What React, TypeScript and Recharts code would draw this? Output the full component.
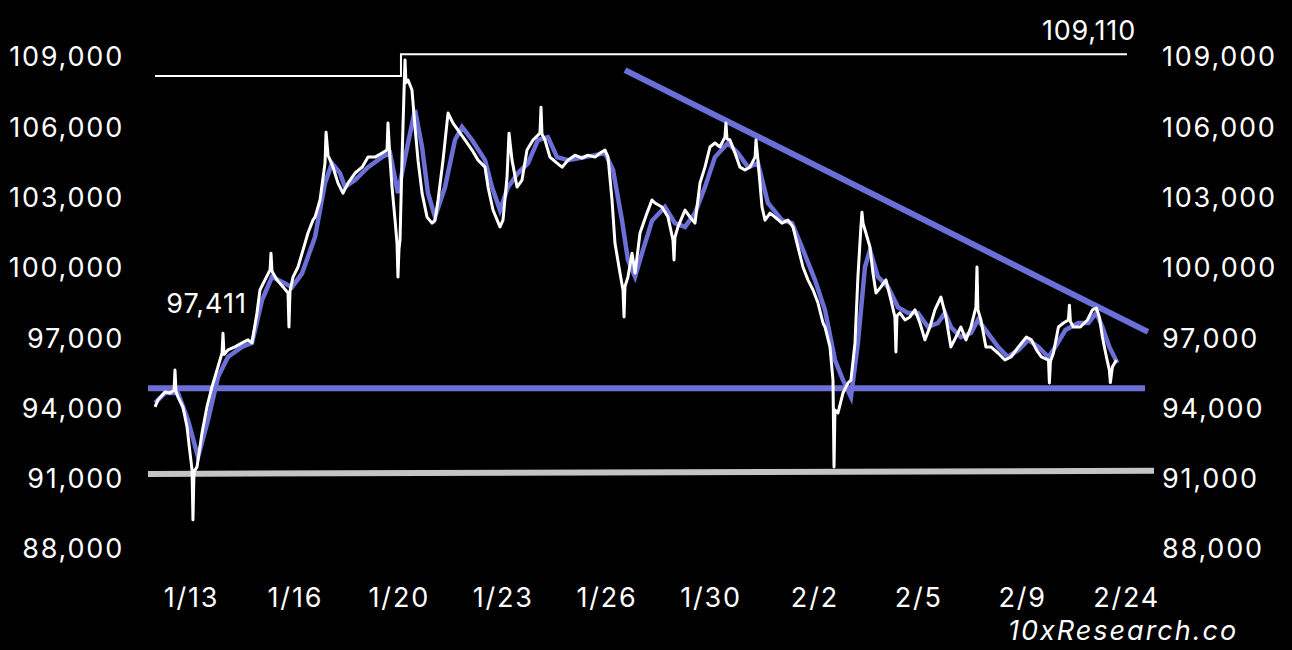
import React from "react";
import {
  ComposedChart,
  Line,
  XAxis,
  YAxis,
  ReferenceDot,
} from "recharts";

// x is a position index: tick k sits on label k (1/13 ... 2/24)
const X_LABELS = ["1/13", "1/16", "1/20", "1/23", "1/26", "1/30", "2/2", "2/5", "2/9", "2/24"];
const X_TICKS = [0, 1, 2, 3, 4, 5, 6, 7, 8, 9];
const Y_TICKS = [88000, 91000, 94000, 97000, 100000, 103000, 106000, 109000];

// BTC price (hourly-ish): [x, price]
const PRICE: [number, number][] = [
  [-0.351, 94060], [-0.322, 94360], [-0.255, 94700], [-0.207, 94650], [-0.168, 94780],
  [-0.159, 95630], [-0.149, 94700], [-0.13, 94480], [-0.082, 94050], [-0.043, 93200],
  [-0.014, 92090], [0.005, 91370], [0.014, 89240], [0.024, 91300], [0.053, 91500],
  [0.101, 92950], [0.149, 94060], [0.197, 94910], [0.245, 95630], [0.294, 96360],
  [0.303, 97200], [0.313, 96300], [0.351, 96490], [0.419, 96620], [0.486, 96790],
  [0.544, 96920], [0.582, 96790], [0.63, 98070], [0.659, 99050], [0.707, 99480],
  [0.756, 99900], [0.765, 100620], [0.775, 99850], [0.823, 99480], [0.881, 99180],
  [0.929, 98920], [0.938, 97470], [0.948, 99000], [0.977, 99600], [1.025, 100030],
  [1.073, 100750], [1.121, 101480], [1.169, 102030], [1.189, 102160], [1.237, 102890],
  [1.285, 104460], [1.295, 105780], [1.314, 104800], [1.362, 104290], [1.41, 103610],
  [1.458, 103180], [1.506, 103610], [1.574, 104040], [1.642, 104290], [1.699, 104720],
  [1.766, 104720], [1.834, 104890], [1.882, 105020], [1.891, 106170], [1.911, 104600],
  [1.93, 103440], [1.959, 102030], [1.978, 101040], [1.987, 99600], [1.997, 100800],
  [2.007, 101180], [2.026, 104590], [2.045, 107450], [2.055, 108860], [2.064, 107900],
  [2.084, 108010], [2.122, 107580], [2.151, 106010], [2.18, 104590], [2.219, 103180],
  [2.267, 102160], [2.315, 101900], [2.344, 102030], [2.373, 102890], [2.421, 104590],
  [2.469, 106600], [2.517, 106170], [2.565, 105870], [2.632, 105450], [2.7, 105020],
  [2.758, 104590], [2.825, 104290], [2.854, 103440], [2.902, 102460], [2.969, 101740],
  [2.998, 102030], [3.037, 103870], [3.056, 105740], [3.085, 104590], [3.133, 103440],
  [3.181, 103740], [3.229, 105020], [3.287, 105450], [3.354, 105740], [3.364, 106850],
  [3.373, 105700], [3.402, 105450], [3.45, 104720], [3.518, 104460], [3.566, 104290],
  [3.624, 104590], [3.691, 104800], [3.759, 104680], [3.816, 104800], [3.884, 104720],
  [3.932, 104890], [3.98, 105020], [4.009, 104720], [4.047, 102890], [4.076, 101040],
  [4.124, 99770], [4.153, 99050], [4.163, 97900], [4.172, 99200], [4.201, 99610],
  [4.24, 100620], [4.269, 99770], [4.317, 101480], [4.384, 102330], [4.432, 102890],
  [4.461, 102760], [4.528, 102590], [4.586, 102160], [4.634, 101180], [4.644, 100330],
  [4.653, 101300], [4.682, 101740], [4.75, 102460], [4.798, 102160], [4.846, 101900],
  [4.894, 103610], [4.942, 104290], [4.99, 105150], [5.038, 105320], [5.086, 105150],
  [5.134, 105570], [5.144, 106170], [5.154, 105500], [5.183, 105450], [5.231, 104890],
  [5.279, 104290], [5.327, 104170], [5.375, 104290], [5.424, 104720], [5.433, 105450],
  [5.452, 104590], [5.491, 102590], [5.52, 102030], [5.568, 102330], [5.616, 102160],
  [5.683, 101900], [5.741, 102030], [5.789, 101740], [5.837, 100880], [5.885, 100030],
  [5.933, 99480], [5.982, 99050], [6.03, 98490], [6.078, 97640], [6.097, 97470],
  [6.145, 96620], [6.174, 95210], [6.184, 91500], [6.193, 93930], [6.222, 93800],
  [6.27, 94650], [6.318, 95080], [6.347, 95210], [6.386, 96790], [6.414, 99610],
  [6.443, 101740], [6.453, 102370], [6.463, 101900], [6.491, 101480], [6.53, 100880],
  [6.559, 99770], [6.588, 98920], [6.636, 99180], [6.684, 99480], [6.732, 98620],
  [6.77, 97900], [6.78, 96400], [6.79, 97950], [6.818, 98070], [6.867, 97770],
  [6.915, 97900], [6.963, 98200], [7.011, 97640], [7.059, 96920], [7.107, 97470],
  [7.155, 98200], [7.213, 98750], [7.261, 97900], [7.309, 96620], [7.357, 97040],
  [7.405, 97470], [7.454, 96920], [7.502, 97470], [7.55, 98320], [7.56, 100030],
  [7.569, 98200], [7.598, 97770], [7.646, 96620], [7.694, 96620], [7.762, 96360],
  [7.829, 96060], [7.887, 96190], [7.959, 96620], [8.036, 97040], [8.084, 96920],
  [8.132, 96490], [8.18, 96190], [8.248, 96060], [8.257, 95080], [8.267, 96000],
  [8.296, 96360], [8.344, 97470], [8.392, 97640], [8.44, 97770], [8.45, 98400],
  [8.459, 97700], [8.488, 97470], [8.555, 97470], [8.623, 97770], [8.671, 98200],
  [8.709, 98280], [8.738, 97900], [8.767, 97040], [8.806, 96190], [8.834, 95630],
  [8.844, 95100], [8.863, 95760], [8.902, 96060],
];

// moving average (blue)
const MA: [number, number][] = [
  [-0.351, 94230], [-0.255, 94650], [-0.13, 94650], [-0.034, 93500], [0.063, 91920],
  [0.159, 93500], [0.255, 95340], [0.351, 96190], [0.486, 96620], [0.582, 96790],
  [0.679, 98620], [0.775, 99610], [0.9, 99330], [0.967, 99160], [1.064, 99760],
  [1.189, 101310], [1.285, 103610], [1.352, 104460], [1.429, 104040], [1.477, 103440],
  [1.574, 103740], [1.699, 104290], [1.834, 104720], [1.911, 104890], [1.987, 103180],
  [2.084, 105320], [2.151, 106730], [2.219, 105150], [2.276, 103180], [2.344, 102160],
  [2.44, 103440], [2.536, 105450], [2.604, 106010], [2.7, 105450], [2.825, 104590],
  [2.892, 103440], [2.969, 102460], [3.046, 103440], [3.143, 104040], [3.239, 104460],
  [3.335, 105450], [3.431, 105570], [3.518, 104720], [3.624, 104590], [3.787, 104720],
  [3.98, 104890], [4.057, 104170], [4.143, 102030], [4.201, 100320], [4.269, 99610],
  [4.336, 100620], [4.432, 102000], [4.557, 102590], [4.653, 101900], [4.75, 101740],
  [4.846, 102330], [4.942, 103440], [5.038, 104720], [5.163, 105320], [5.26, 104890],
  [5.356, 104290], [5.452, 104460], [5.548, 102760], [5.683, 102030], [5.779, 101900],
  [5.875, 100880], [6.0, 99480], [6.097, 98190], [6.193, 96060], [6.27, 95210],
  [6.347, 94480], [6.414, 96790], [6.482, 100030], [6.53, 100750], [6.607, 99610],
  [6.703, 99180], [6.799, 98320], [6.895, 98070], [6.992, 98070], [7.088, 97470],
  [7.184, 97640], [7.252, 98070], [7.309, 97470], [7.405, 97040], [7.502, 97210],
  [7.569, 97770], [7.665, 97210], [7.762, 96620], [7.858, 96190], [7.959, 96490],
  [8.055, 96920], [8.151, 96620], [8.248, 96190], [8.315, 96620], [8.411, 97340],
  [8.536, 97640], [8.632, 97640], [8.709, 98070], [8.767, 97470], [8.834, 96620],
  [8.911, 95930],
];

// previous high (step) and annotated levels
const PREV_HIGH: [number, number][] = [[-0.351, 108180], [2.016, 108180], [2.016, 109110], [9.004, 109110]];
const SUPPORT: [number, number][] = [[-0.419, 94860], [9.177, 94860]];
const FLOOR: [number, number][] = [[-0.419, 91200], [9.264, 91330]];
const RESISTANCE: [number, number][] = [[4.172, 108430], [9.206, 97260]];

const toRows = (pts: [number, number][]) => pts.map(([t, v]) => ({ t, v }));

const FONT = "Inter, 'Open Sans', sans-serif";
const BLUE = "#6b6fd6";
const SPACING = 1.8;

const fmt = (v: number) => v.toLocaleString("en-US");

const annot = (text: string, dx: number, dy: number, spacing: number) => (props: any) => {
  const vb = props.viewBox || {};
  return (
    <text
      x={(vb.x ?? 0) + dx}
      y={(vb.y ?? 0) + dy}
      textAnchor="end"
      fill="#ffffff"
      fontSize={27}
      fontFamily={FONT}
      letterSpacing={spacing}
    >
      {text}
    </text>
  );
};

export default function App() {
  const tickStyle = { fill: "#ffffff", fontSize: 27, fontFamily: FONT, letterSpacing: SPACING };
  return (
    <div
      style={{
        position: "fixed",
        top: 0,
        left: 0,
        width: 1292,
        height: 650,
        background: "#000000",
      }}
    >
      <ComposedChart
        width={1292}
        height={650}
        margin={{ top: 20, right: 0, bottom: 0, left: 0 }}
      >
        <XAxis
          dataKey="t"
          type="number"
          domain={[-0.4957, 9.283]}
          ticks={X_TICKS}
          tickFormatter={(v: number) => X_LABELS[v] ?? ""}
          allowDataOverflow
          axisLine={false}
          tickLine={false}
          tickSize={0}
          tickMargin={18}
          height={80}
          tick={tickStyle}
          interval={0}
        />
        <YAxis
          yAxisId="left"
          orientation="left"
          domain={[87100, 110570]}
          ticks={Y_TICKS}
          tickFormatter={fmt}
          allowDataOverflow
          axisLine={false}
          tickLine={false}
          tickSize={0}
          tickMargin={16}
          width={140}
          tick={tickStyle}
          interval={0}
        />
        <YAxis
          yAxisId="right"
          orientation="right"
          domain={[87100, 110570]}
          ticks={Y_TICKS}
          tickFormatter={fmt}
          allowDataOverflow
          axisLine={false}
          tickLine={false}
          tickSize={0}
          tickMargin={6}
          width={136}
          tick={{ ...tickStyle, textAnchor: "start" }}
          interval={0}
        />

        <Line yAxisId="left" data={toRows(FLOOR)} dataKey="v" stroke="#c4c4c4" strokeWidth={6} dot={false} activeDot={false} isAnimationActive={false} />
        <Line yAxisId="left" data={toRows(SUPPORT)} dataKey="v" stroke={BLUE} strokeWidth={6} dot={false} activeDot={false} isAnimationActive={false} />
        <Line yAxisId="left" data={toRows(RESISTANCE)} dataKey="v" stroke={BLUE} strokeWidth={6} dot={false} activeDot={false} isAnimationActive={false} />
        <Line yAxisId="left" data={toRows(PREV_HIGH)} dataKey="v" stroke="#ffffff" strokeWidth={2} dot={false} activeDot={false} isAnimationActive={false} />
        <Line yAxisId="left" data={toRows(MA)} dataKey="v" stroke={BLUE} strokeWidth={4.5} dot={false} activeDot={false} isAnimationActive={false} />
        <Line yAxisId="left" data={toRows(PRICE)} dataKey="v" stroke="#ffffff" strokeWidth={3} strokeLinejoin="round" dot={false} activeDot={false} isAnimationActive={false} />

        <ReferenceDot yAxisId="left" x={0.534} y={97411} r={0} fill="none" stroke="none" label={annot("97,411", 0, -15, 1)} />
        <ReferenceDot yAxisId="left" x={9.004} y={109110} r={0} fill="none" stroke="none" label={annot("109,110", 9, -14, 0.8)} />
      </ComposedChart>

      <div
        style={{
          position: "absolute",
          left: 1008,
          top: 614,
          fontFamily: FONT,
          fontStyle: "italic",
          fontSize: 27,
          letterSpacing: 2,
          color: "#ffffff",
          lineHeight: "34px",
          whiteSpace: "nowrap",
        }}
      >
        10xResearch.co
      </div>
    </div>
  );
}
